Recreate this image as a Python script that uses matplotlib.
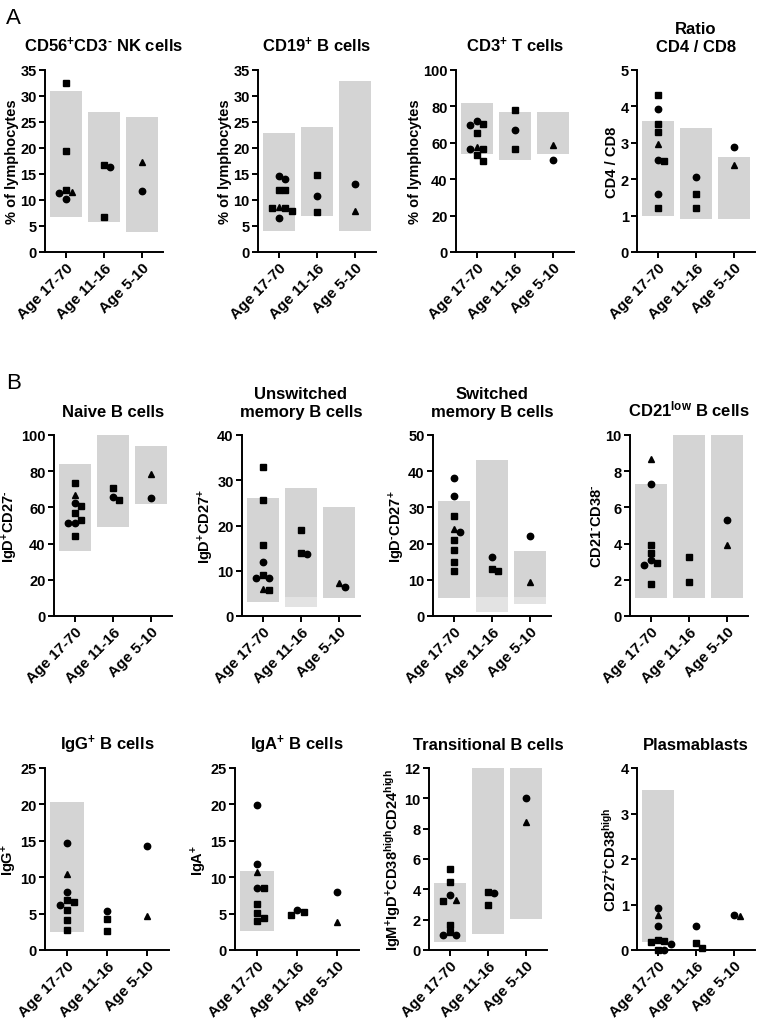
import numpy as np
import matplotlib
matplotlib.use("Agg")
import matplotlib.pyplot as plt

plt.rcParams['font.family'] = 'Liberation Sans'
plt.rcParams['font.weight'] = 'bold'
plt.rcParams['mathtext.fontset'] = 'custom'
plt.rcParams['mathtext.rm'] = 'Liberation Sans:bold'
plt.rcParams['mathtext.it'] = 'Liberation Sans:bold'
plt.rcParams['mathtext.bf'] = 'Liberation Sans:bold'
plt.rcParams['axes.linewidth'] = 1.4

groups = ["Age 17-70", "Age 11-16", "Age 5-10"]

# each panel: values per age group, marker kind per value (s=square, o=circle, t=triangle),
# reference range (low, high) per group, None if no range shown
nk_vals = [[32.5, 19.4, 12.0, 11.5, 11.3, 10.1], [16.7, 6.8, 16.3], [17.4, 11.7]]
nk_kind = ["ssstoo", "sso", "to"]
nk_ref = [(6.8, 31.0), (5.7, 26.9), (3.8, 26.0)]

bc_vals = [[14.6, 14.0, 12.0, 12.0, 8.5, 8.4, 7.8, 8.6, 6.6], [14.8, 10.7, 7.7], [13.0, 7.9]]
bc_kind = ["oosssssto", "sos", "ot"]
bc_ref = [(4.0, 22.9), (6.9, 24.0), (4.0, 32.9)]

tc_vals = [[70.1, 70.0, 71.8, 65.2, 56.8, 56.5, 57.8, 53.3, 49.8], [78.0, 67.2, 56.4], [58.6, 50.8]]
tc_kind = ["soossotss", "sos", "to"]
tc_ref = [(53.8, 81.9), (50.8, 76.8), (53.8, 76.8)]

ratio_vals = [[4.31, 3.92, 3.51, 3.31, 2.96, 2.51, 2.52, 1.59, 1.20], [2.06, 1.60, 1.20], [2.88, 2.40]]
ratio_kind = ["sosstsoos", "oss", "ot"]
ratio_ref = [(1.0, 3.6), (0.9, 3.42), (0.9, 2.6)]

naive_vals = [[73.5, 66.8, 62.6, 60.6, 56.7, 53.2, 51.2, 51.2, 44.0], [70.7, 65.9, 64.1], [78.6, 65.0]]
naive_kind = ["stosssoos", "sos", "to"]
naive_ref = [(35.9, 84.0), (49.0, 100.0), (62.1, 93.9)]

unsw_vals = [[33.0, 25.6, 15.6, 12.0, 8.4, 8.3, 9.1, 5.8, 5.9], [19.0, 13.6, 14.0], [6.4, 7.2]]
unsw_kind = ["sssooosst", "sos", "ot"]
unsw_ref = [(3.2, 26.05), (4.1, 28.2), (4.0, 24.0)]
unsw_ref2 = [None, (2.0, 4.1), None]

sw_vals = [[38.0, 33.2, 27.5, 24.0, 23.2, 21.0, 18.2, 14.8, 12.5], [16.3, 13.1, 12.3], [22.0, 9.5]]
sw_kind = ["oostossss", "oss", "ot"]
sw_ref = [(5.1, 31.9), (5.2, 43.0), (5.2, 18.0)]
sw_ref2 = [None, (1.1, 5.2), (3.2, 5.2)]

cd21_vals = [[8.7, 7.32, 3.95, 3.5, 3.1, 2.93, 2.82, 1.79], [3.28, 1.88], [5.3, 3.9]]
cd21_kind = ["tossosos", "ss", "ot"]
cd21_ref = [(1.0, 7.3), (1.0, 10.0), (1.0, 10.0)]

igg_vals = [[14.66, 10.5, 7.9, 6.66, 6.85, 6.2, 5.56, 4.18, 2.76], [5.33, 4.2, 2.67], [14.3, 4.7]]
igg_kind = ["otossosss", "oss", "ot"]
igg_ref = [(2.53, 20.36), None, None]

iga_vals = [[19.85, 11.76, 10.66, 8.55, 8.5, 6.3, 5.1, 4.37, 3.95], [5.5, 4.8, 5.2], [7.95, 3.9]]
iga_kind = ["ootosssss", "oss", "ot"]
iga_ref = [(2.57, 10.9), None, None]

tr_vals = [[5.36, 4.46, 3.62, 3.2, 3.3, 1.63, 1.19, 0.97, 0.97], [3.84, 3.73, 2.96], [10.0, 8.43]]
tr_kind = ["ssostssoo", "sos", "ot"]
tr_ref = [(0.53, 4.39), (1.06, 12.0), (2.03, 12.0)]

pb_vals = [[0.93, 0.78, 0.53, 0.185, 0.14, 0.19, 0.21, 0.0, 0.0], [0.53, 0.15, 0.05], [0.74, 0.78]]
pb_kind = ["otosossos", "oss", "to"]
pb_ref = [(0.18, 3.51), None, None]

markers = {"s": ("s", 4.2), "o": ("o", 4.6), "t": ("^", 4.6)}

# short hyphen for the "negative" superscripts, as in the original figure
neg = "\u2010"

W, H = 759, 1020
fig = plt.figure(figsize=(W / 100, H / 100), dpi=100)

# (values, kinds, ref, ref2, ymax, ystep, title, ylabel, spine x px, group spacing px, axis top px, axis bottom px)
panels = [
    (nk_vals, nk_kind, nk_ref, None, 35, 5, "CD56$^{+}$CD3$^{" + neg + "}$ NK cells", "% of lymphocytes", 45, 38, 71, 253),
    (bc_vals, bc_kind, bc_ref, None, 35, 5, r"CD19$^{+}$ B cells", "% of lymphocytes", 258, 38, 71, 253),
    (tc_vals, tc_kind, tc_ref, None, 100, 20, r"CD3$^{+}$ T cells", "% of lymphocytes", 456, 38, 71, 253),
    (ratio_vals, ratio_kind, ratio_ref, None, 5, 1, "Ratio\nCD4 / CD8", "CD4 / CD8", 637, 38, 71, 253),
    (naive_vals, naive_kind, naive_ref, None, 100, 20, "Naive B cells", "IgD$^{+}$CD27$^{" + neg + "}$", 54, 38, 436, 617),
    (unsw_vals, unsw_kind, unsw_ref, unsw_ref2, 40, 10, "Unswitched\nmemory B cells", r"IgD$^{+}$CD27$^{+}$", 242, 38, 436, 617),
    (sw_vals, sw_kind, sw_ref, sw_ref2, 50, 10, "Switched\nmemory B cells", "IgD$^{" + neg + "}$CD27$^{+}$", 433, 38, 436, 617),
    (cd21_vals, cd21_kind, cd21_ref, None, 10, 2, r"CD21$^{\mathrm{low}}$ B cells",
     "CD21$^{" + neg + "}$CD38$^{" + neg + "}$", 630, 38, 436, 617),
    (igg_vals, igg_kind, igg_ref, None, 25, 5, r"IgG$^{+}$ B cells", r"IgG$^{+}$", 45, 40, 769, 951),
    (iga_vals, iga_kind, iga_ref, None, 25, 5, r"IgA$^{+}$ B cells", r"IgA$^{+}$", 235, 40, 769, 951),
    (tr_vals, tr_kind, tr_ref, None, 12, 2, "Transitional B cells",
     r"IgM$^{+}$IgD$^{+}$CD38$^{\mathrm{high}}$CD24$^{\mathrm{high}}$", 429, 38, 769, 951),
    (pb_vals, pb_kind, pb_ref, None, 4, 1, "Plasmablasts", r"CD27$^{+}$CD38$^{\mathrm{high}}$", 637, 38, 769, 951),
]


def swarm(vals, ax, x0, d=6.5):
    # spread overlapping points sideways, like a GraphPad scatter dot plot
    tr = ax.transData
    inv = tr.inverted()
    order = np.argsort(vals)[::-1]
    placed = []
    xs = np.zeros(len(vals))
    for i in order:
        cx, cy = tr.transform((x0, vals[i]))
        for k in [0, 1, -1, 2, -2, 3, -3]:
            px = cx + k * d
            if all(abs(px - qx) >= d or abs(cy - qy) >= d for qx, qy in placed):
                break
        placed.append((px, cy))
        xs[i] = inv.transform((px, cy))[0]
    return xs


for vals, kinds, ref, ref2, ymax, ystep, title, ylabel, sx, sp, top, bot in panels:
    xl, xr = -0.55, 2.55
    ax = fig.add_axes([sx / W, 1 - bot / H, (xr - xl) * sp / W, (bot - top) / H])
    ax.set_xlim(xl, xr)
    ax.set_ylim(0, ymax)
    for g in range(3):
        if ref[g] is not None:
            lo, hi = ref[g]
            ax.bar(g, hi - lo, bottom=lo, width=0.85, color="#d4d4d4", zorder=0)
        if ref2 is not None and ref2[g] is not None:
            lo, hi = ref2[g]
            ax.bar(g, hi - lo, bottom=lo, width=0.85, color="#e3e3e3", zorder=0)
        xs = swarm(vals[g], ax, g)
        for x, y, k in zip(xs, vals[g], kinds[g]):
            m, ms = markers[k]
            ax.plot(x, y, marker=m, markersize=ms, color="black", linestyle="none",
                    clip_on=False, zorder=3)
    ax.set_yticks(np.arange(0, ymax + ystep / 2, ystep))
    ax.set_xticks(range(3))
    ax.set_xticklabels(groups, rotation=45, ha="right", rotation_mode="anchor", fontsize=11)
    ax.tick_params(direction="out", length=4, width=1.4, pad=2)
    ax.tick_params(axis="y", labelsize=10.5)
    ax.spines["top"].set_visible(False)
    ax.spines["right"].set_visible(False)
    ax.set_ylabel(ylabel, fontsize=10.5, fontweight="bold", labelpad=1)
    ax.set_title(title, fontsize=12, fontweight="bold", pad=14)

fig.text(0.008, 0.982, "A", fontsize=16, fontweight="normal", va="center")
fig.text(0.008, 0.624, "B", fontsize=16, fontweight="normal", va="center")

fig.savefig("out.png", dpi=100)
